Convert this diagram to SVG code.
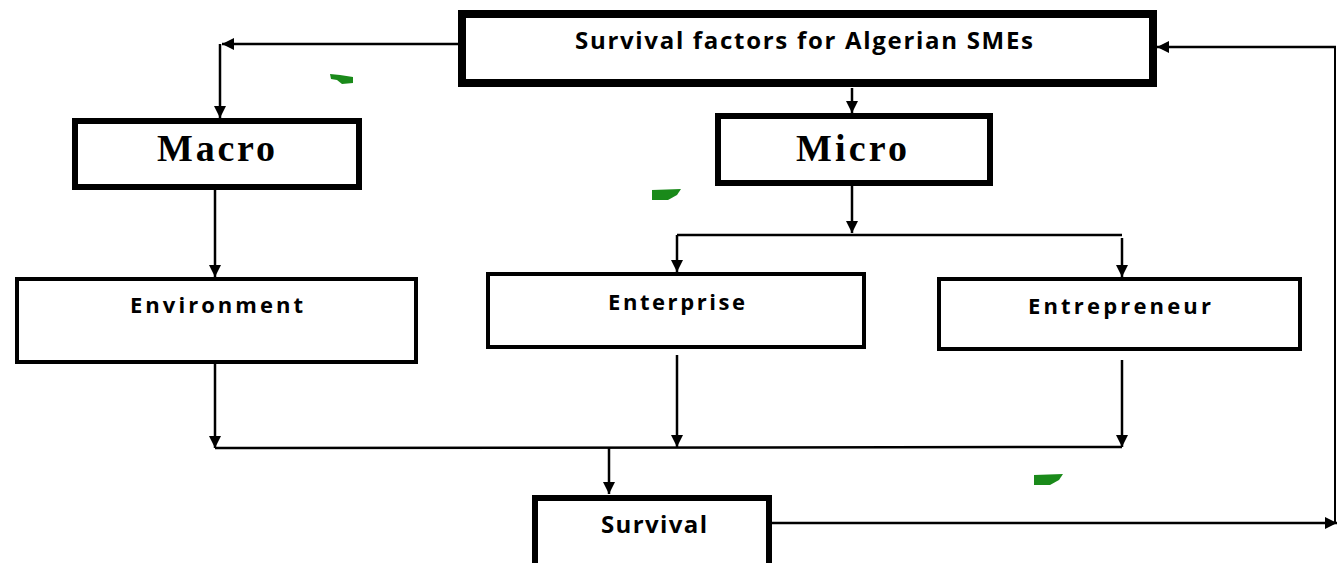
<svg xmlns="http://www.w3.org/2000/svg" width="1339" height="563" viewBox="0 0 1339 563">
<style>
.box{fill:#fff;stroke:#000}
.t-sans{font-family:"Open Sans","Liberation Sans",sans-serif;font-weight:bold;fill:#000;text-anchor:middle}
.t-serif{font-family:"Liberation Serif","DejaVu Serif",serif;font-weight:bold;fill:#000;text-anchor:middle}
.c{fill:none;stroke:#000;stroke-width:2.5}
.blob{fill:#1a8a1a}
</style>
<defs>
<marker id="ah" viewBox="0 0 12 12" refX="12" refY="6" markerWidth="12" markerHeight="12" markerUnits="userSpaceOnUse" orient="auto">
<path d="M0,0 L12,6 L0,12 z" fill="#000"/>
</marker>
</defs>
<rect width="1339" height="563" fill="#fff"/>
<g id="connectors">
<polyline class="c" points="458,44 222,44" marker-end="url(#ah)"/>
<polyline class="c" points="220,44 220,118" marker-end="url(#ah)"/>
<polyline class="c" points="852,88 852,113" marker-end="url(#ah)"/>
<polyline class="c" points="852,186 852,233" marker-end="url(#ah)"/>
<polyline class="c" points="677,235 1122,235"/>
<polyline class="c" points="677,235 677,272" marker-end="url(#ah)"/>
<polyline class="c" points="1122,238 1122,277" marker-end="url(#ah)"/>
<polyline class="c" points="215,190 215,277" marker-end="url(#ah)"/>
<polyline class="c" points="215,364 215,448" marker-end="url(#ah)"/>
<polyline class="c" points="215,448 1122,447"/>
<polyline class="c" points="677,355 677,447" marker-end="url(#ah)"/>
<polyline class="c" points="1122,360 1122,447" marker-end="url(#ah)"/>
<polyline class="c" points="609,448 609,494" marker-end="url(#ah)"/>
<polyline class="c" points="772,523 1337,523" marker-end="url(#ah)"/>
<polyline class="c" points="1335,523 1335,47" style="stroke-width:2"/>
<polyline class="c" points="1336,47 1157,47" marker-end="url(#ah)"/>
</g>
<g id="node-top">
<rect class="box" x="462" y="14" width="691" height="69" stroke-width="8"/>
<text class="t-sans" x="804" y="49" font-size="24" textLength="458">Survival factors for Algerian SMEs</text>
</g>
<g id="node-macro">
<rect class="box" x="75" y="121" width="284" height="66" stroke-width="6"/>
<text class="t-serif" x="216" y="161" font-size="38" textLength="118">Macro</text>
</g>
<g id="node-micro">
<rect class="box" x="718" y="116" width="272" height="67" stroke-width="6"/>
<text class="t-serif" x="851.5" y="161" font-size="38" textLength="111">Micro</text>
</g>
<g id="node-environment">
<rect class="box" x="17" y="279" width="399" height="83" stroke-width="4"/>
<text class="t-sans" x="216.5" y="313" font-size="22" textLength="173">Environment</text>
</g>
<g id="node-enterprise">
<rect class="box" x="488" y="274" width="376" height="73" stroke-width="4"/>
<text class="t-sans" x="676.5" y="310" font-size="22" textLength="137">Enterprise</text>
</g>
<g id="node-entrepreneur">
<rect class="box" x="939" y="279" width="361" height="70" stroke-width="4"/>
<text class="t-sans" x="1119.5" y="314" font-size="22" textLength="183">Entrepreneur</text>
</g>
<g id="node-survival">
<rect class="box" x="535" y="498" width="234" height="68" stroke-width="6"/>
<text class="t-sans" x="654" y="533" font-size="24" textLength="106">Survival</text>
</g>
<path class="blob" d="M330,74 L340,75 L353,77 L353,83 L342,84 L337,80 L331,79 z"/>
<path class="blob" d="M652,190 L681,189 L677,195 L668,200 L652,200 z"/>
<path class="blob" d="M1034,475 L1063,474 L1059,480 L1050,485 L1034,485 z"/>
</svg>
